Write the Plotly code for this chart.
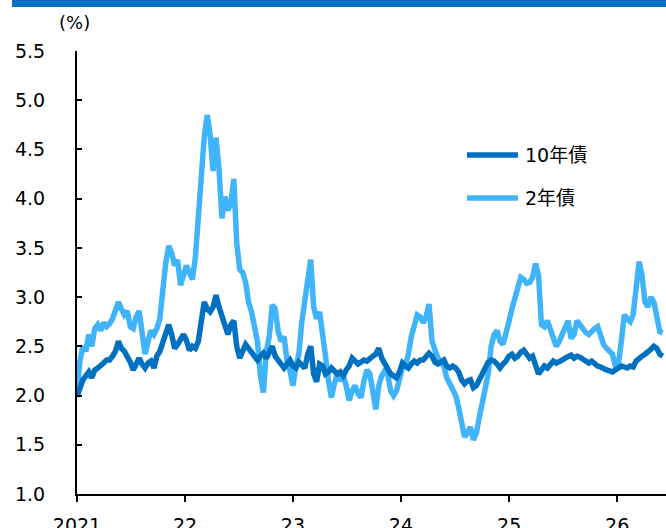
import pandas as pd
import plotly.graph_objects as go

# Yields (%), sampled every 10 days from the start of 2021
start_date = "2021-01-01"
step = "10D"

yield_10y = [
    1.99, 2.10, 2.16, 2.20, 2.24, 2.18, 2.26, 2.28, 2.30, 2.33,
    2.36, 2.36, 2.40, 2.45, 2.55, 2.48, 2.45, 2.40, 2.34, 2.26,
    2.32, 2.38, 2.32, 2.28, 2.33, 2.35, 2.28, 2.40, 2.45, 2.55,
    2.66, 2.72, 2.62, 2.48, 2.52, 2.58, 2.62, 2.56, 2.46, 2.50,
    2.48, 2.55, 2.80, 2.95, 2.88, 2.85, 2.90, 3.02, 2.90, 2.80,
    2.70, 2.62, 2.72, 2.76, 2.50, 2.38, 2.45, 2.52, 2.48, 2.44,
    2.40, 2.36, 2.40, 2.43, 2.38, 2.45, 2.50, 2.40, 2.35, 2.32,
    2.28, 2.32, 2.36, 2.30, 2.28, 2.34, 2.30, 2.28, 2.42, 2.50,
    2.22, 2.14, 2.32, 2.30, 2.22, 2.24, 2.28, 2.24, 2.22, 2.24,
    2.20, 2.26, 2.30, 2.38, 2.35, 2.32, 2.34, 2.36, 2.35, 2.38,
    2.40, 2.42, 2.48, 2.38, 2.32, 2.28, 2.22, 2.20, 2.18, 2.24,
    2.33, 2.30, 2.28, 2.32, 2.35, 2.33, 2.36, 2.36, 2.40, 2.43,
    2.40, 2.34, 2.32, 2.34, 2.36, 2.30, 2.28, 2.30, 2.28, 2.24,
    2.16, 2.12, 2.15, 2.16, 2.08, 2.10, 2.16, 2.24, 2.30, 2.34,
    2.36, 2.35, 2.32, 2.28, 2.32, 2.35, 2.40, 2.42, 2.38, 2.40,
    2.44, 2.46, 2.42, 2.38, 2.40, 2.30, 2.22, 2.26, 2.30, 2.28,
    2.32, 2.35, 2.33, 2.34, 2.36, 2.38, 2.40, 2.41, 2.38, 2.40,
    2.39, 2.37, 2.36, 2.33, 2.35, 2.32, 2.30, 2.29, 2.27, 2.26,
    2.25, 2.24, 2.26, 2.28, 2.30, 2.29, 2.28, 2.30, 2.29, 2.35,
    2.38, 2.40, 2.42, 2.44, 2.47, 2.50, 2.48, 2.42, 2.40,
]

yield_2y = [
    2.05, 2.35, 2.50, 2.45, 2.62, 2.50, 2.68, 2.72, 2.66, 2.74,
    2.70, 2.73, 2.78, 2.86, 2.95, 2.88, 2.82, 2.86, 2.70, 2.68,
    2.80, 2.86, 2.60, 2.42, 2.55, 2.66, 2.62, 2.68, 2.78, 3.10,
    3.35, 3.52, 3.45, 3.32, 3.38, 3.12, 3.22, 3.32, 3.25, 3.18,
    3.40, 3.85, 4.15, 4.62, 4.85, 4.65, 4.28, 4.62, 4.30, 3.80,
    4.02, 3.88, 3.95, 4.20, 3.55, 3.28, 3.25, 3.15, 2.95, 2.85,
    2.70, 2.55, 2.20, 2.03, 2.45, 2.60, 2.92, 2.88, 2.65, 2.55,
    2.60, 2.35, 2.25, 2.10, 2.30, 2.42, 2.75, 2.95, 3.10, 3.38,
    2.90, 2.78, 2.85, 2.65, 2.40, 2.15, 1.98, 2.12, 2.22, 2.15,
    2.20, 2.10, 1.95, 2.05, 2.10, 2.02, 1.98, 2.15, 2.26, 2.22,
    2.00, 1.86, 2.10, 2.20, 2.25, 2.22, 2.05, 2.00, 2.05, 2.15,
    2.28, 2.30, 2.42, 2.60, 2.72, 2.82, 2.80, 2.74, 2.80, 2.93,
    2.55, 2.45, 2.38, 2.35, 2.30, 2.18, 2.12, 2.08, 2.00, 1.88,
    1.70, 1.58, 1.62, 1.68, 1.55, 1.62, 1.78, 1.95, 2.05, 2.22,
    2.50, 2.62, 2.66, 2.55, 2.52, 2.62, 2.75, 2.88, 3.00, 3.12,
    3.20, 3.18, 3.14, 3.15, 3.20, 3.34, 3.22, 2.72, 2.70, 2.76,
    2.66, 2.58, 2.50, 2.55, 2.62, 2.70, 2.76, 2.58, 2.62, 2.76,
    2.72, 2.66, 2.64, 2.62, 2.66, 2.68, 2.70, 2.60, 2.52, 2.48,
    2.45, 2.42, 2.30, 2.32, 2.55, 2.82, 2.78, 2.75, 2.82, 3.10,
    3.36, 3.22, 2.95, 2.90, 3.00, 2.95, 2.82, 2.65, 2.64,
]

series_names = ["10年債", "2年債"]
year_ticks = ["2021-01-01", "2022-01-01", "2023-01-01", "2024-01-01", "2025-01-01", "2026-01-01"]
year_labels = ["2021", "22", "23", "24", "25", "26"]
y_ticks = [1.0, 1.5, 2.0, 2.5, 3.0, 3.5, 4.0, 4.5, 5.0, 5.5]

dates = pd.date_range(start_date, periods=len(yield_10y), freq=step)

DARK = "#0070C0"
LIGHT = "#40B4FA"
FONT = "DejaVu Sans, Noto Sans CJK JP, sans-serif"
FS = 19

W, H = 666, 528
ML, MR, MT, MB = 77, 0, 51, 34
plot_w = W - ML - MR
plot_h = H - MT - MB


def px_x(px):
    return (px - ML) / plot_w


def px_y(py):
    return (H - MB - py) / plot_h


fig = go.Figure()
# 2-year drawn first so the 10-year line sits on top
fig.add_trace(go.Scatter(x=dates, y=yield_2y, mode="lines", name=series_names[1],
                         line=dict(color=LIGHT, width=5.5), showlegend=False))
fig.add_trace(go.Scatter(x=dates, y=yield_10y, mode="lines", name=series_names[0],
                         line=dict(color=DARK, width=5.5), showlegend=False))

# Header band
fig.add_shape(type="rect", xref="paper", yref="paper",
              x0=px_x(12), x1=px_x(W), y0=px_y(7), y1=px_y(0),
              fillcolor=DARK, line_width=0, layer="above")

# Legend: sample line plus label
for name, color, py in [(series_names[0], DARK, 155), (series_names[1], LIGHT, 198)]:
    fig.add_shape(type="line", xref="paper", yref="paper",
                  x0=px_x(467), x1=px_x(518), y0=px_y(py), y1=px_y(py),
                  line=dict(color=color, width=5.5))
    fig.add_annotation(xref="paper", yref="paper", x=px_x(523), y=px_y(py),
                       text=name, showarrow=False, xanchor="left", yanchor="middle",
                       font=dict(size=FS, color="#000000", family=FONT))

# Unit label
fig.add_annotation(xref="paper", yref="paper", x=px_x(74), y=px_y(22),
                   text="(%)", showarrow=False, xanchor="center", yanchor="middle",
                   font=dict(size=FS - 1, color="#000000", family=FONT))

fig.update_layout(
    width=W, height=H,
    margin=dict(l=ML, r=MR, t=MT, b=MB, autoexpand=False),
    paper_bgcolor="white", plot_bgcolor="white",
    font=dict(family=FONT, size=FS, color="#000000"),
    showlegend=False,
)
fig.update_xaxes(
    range=["2021-01-01", "2026-06-15"],
    tickvals=year_ticks, ticktext=year_labels,
    ticks="outside", ticklen=6, tickwidth=2, tickcolor="#000000",
    showline=True, linecolor="#000000", linewidth=2,
    showgrid=False, zeroline=False, automargin=False,
    ticklabelstandoff=7,
)
fig.update_yaxes(
    range=[1.0, 5.5],
    tickvals=y_ticks, tickformat=".1f",
    ticks="inside", ticklen=5, tickwidth=2, tickcolor="#000000",
    showline=True, linecolor="#000000", linewidth=2,
    showgrid=False, zeroline=False, automargin=False,
    ticklabelstandoff=26,
)

fig.write_html("out.html")
